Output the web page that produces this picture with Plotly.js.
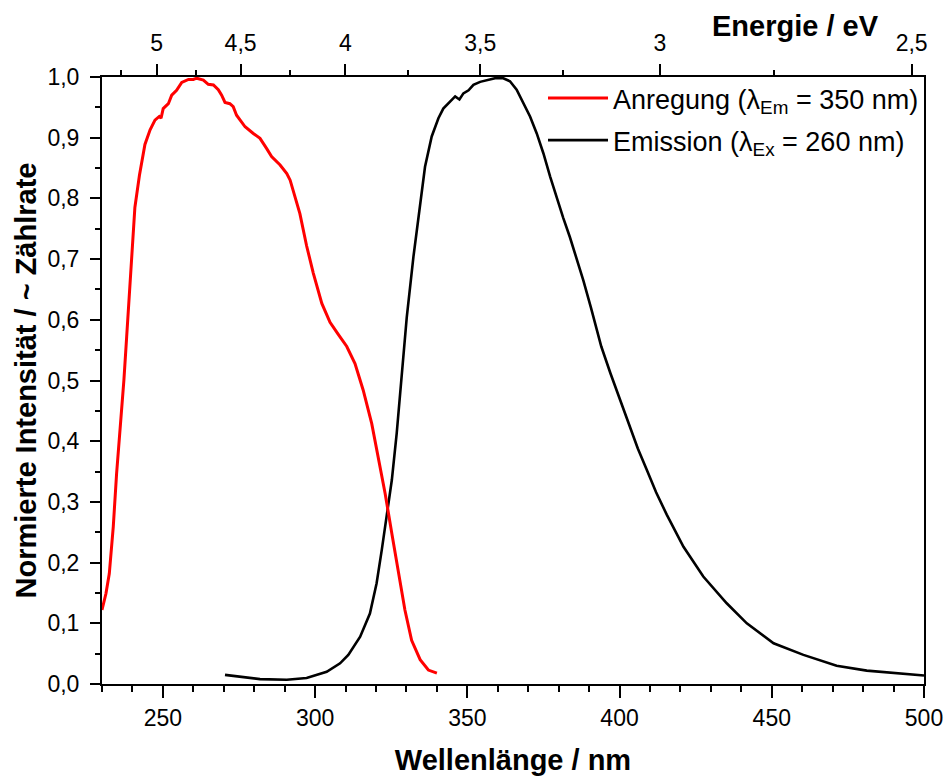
<!DOCTYPE html>
<html>
<head>
<meta charset="utf-8">
<script src="https://cdn.plot.ly/plotly-3.0.1.min.js"></script>
<style>html,body{margin:0;padding:0;background:#fff;}#chart{width:949px;height:778px;}</style>
</head>
<body>
<div id="chart"></div>
<script>
// Anregung (excitation spectrum, λEm = 350 nm)
const excWavelength = [230,231.3,232.4,233.7,234.8,236.1,237.2,238.1,239.4,240.8,242.3,244.1,245.8,247.4,248.8,249.4,250.1,251.8,252.9,254.5,256.2,258.4,260,261.1,263.3,264.9,266.6,268.2,269.3,270.4,272,273.1,274.2,277,279.7,281.9,284.1,285.7,288.5,290.7,291.8,293.4,295,297.2,299.4,302.2,304.9,307.6,310.4,313.1,315.8,318.6,320.8,323,325.2,327.3,329.5,331.7,334.5,337.2,340];
const excIntensity  = [0.122,0.149,0.182,0.259,0.347,0.429,0.501,0.572,0.682,0.785,0.838,0.889,0.913,0.929,0.935,0.932,0.948,0.956,0.970,0.978,0.991,0.996,0.996,0.998,0.995,0.988,0.987,0.979,0.970,0.958,0.956,0.951,0.937,0.918,0.907,0.899,0.882,0.869,0.855,0.841,0.830,0.803,0.775,0.722,0.677,0.627,0.596,0.576,0.556,0.528,0.484,0.429,0.374,0.314,0.248,0.188,0.122,0.072,0.040,0.023,0.018];

// Emission (emission spectrum, λEx = 260 nm)
const emiWavelength = [270.4,281.9,290.7,297.2,303.8,308.2,310.9,314.8,318,320.2,321.9,323.5,325.2,326.8,328.4,330.1,332.3,334.5,336.1,338.3,340.5,342.1,344.3,346,347.4,348.7,350.4,352,354.2,356.9,359.1,361.8,364,366.2,368.4,370.6,372.8,375,377.2,379.4,381.5,383.7,385.9,388.1,390.6,394,397,400,403,406,409,412,415.5,421,427.5,435.2,441.8,450.6,460.4,471.3,481.2,490,500];
const emiIntensity  = [0.015,0.008,0.007,0.010,0.020,0.034,0.048,0.078,0.116,0.166,0.221,0.276,0.336,0.413,0.506,0.604,0.704,0.792,0.852,0.902,0.932,0.948,0.959,0.968,0.963,0.973,0.978,0.987,0.992,0.996,0.998,0.998,0.993,0.979,0.957,0.935,0.907,0.874,0.836,0.800,0.768,0.736,0.702,0.665,0.620,0.556,0.512,0.470,0.428,0.388,0.352,0.316,0.279,0.226,0.177,0.133,0.100,0.067,0.048,0.030,0.022,0.018,0.014];

// top axis (energy) ticks
const energyTicks = [5, 4.5, 4, 3.5, 3, 2.5];
const energyLabels = ['5', '4,5', '4', '3,5', '3', '2,5'];
const energyMinor = [5.25, 4.75, 4.25, 3.75, 3.25, 2.75];
const hc = 1239.84; // eV·nm

const seriesNames = ['Anregung (λ<sub>Em</sub> = 350 nm)', 'Emission (λ<sub>Ex</sub> = 260 nm)'];

const font = 'Liberation Sans, Arial, sans-serif';

const traces = [
  {x: excWavelength, y: excIntensity, type: 'scatter', mode: 'lines', name: seriesNames[0],
   xaxis: 'x2', yaxis: 'y', legendgroup: 'a',
   line: {color: '#ff0000', width: 3}},
  {x: emiWavelength, y: emiIntensity, type: 'scatter', mode: 'lines', name: seriesNames[1],
   xaxis: 'x', yaxis: 'y', legendgroup: 'b',
   line: {color: '#000000', width: 2.6}}
];

const layout = {
  width: 949, height: 778,
  margin: {l: 102, r: 25, t: 77, b: 94},
  paper_bgcolor: '#fff', plot_bgcolor: 'rgba(0,0,0,0)',
  separators: ',.',
  font: {family: font, color: '#000', size: 23},
  showlegend: true,
  legend: {x: 1.0, xanchor: 'right', y: 1.005, yanchor: 'top', bgcolor: 'rgba(0,0,0,0)',
           font: {size: 27, family: font, color: '#000'}, itemwidth: 60,
           traceorder: 'grouped', tracegroupgap: 4},
  xaxis: {
    range: [230, 500], showgrid: false, zeroline: false,
    showline: true, linecolor: '#000', linewidth: 2,
    ticks: 'outside', ticklen: 12, tickwidth: 2, tickcolor: '#000',
    tickmode: 'linear', tick0: 0, dtick: 50,
    minor: {ticks: 'outside', ticklen: 6, tickwidth: 2, tickcolor: '#000', dtick: 10, tick0: 0, showgrid: false},
    tickfont: {size: 23, family: font, color: '#000'},
    title: {text: '<b>Wellenlänge / nm</b>', font: {size: 29, family: font, color: '#000'}, standoff: 20}
  },
  xaxis2: {
    overlaying: 'x', side: 'top', anchor: 'y',
    range: [230, 500], showgrid: false, zeroline: false,
    showline: true, linecolor: '#000', linewidth: 2,
    ticks: 'outside', ticklen: 11, tickwidth: 2, tickcolor: '#000',
    tickmode: 'array', tickvals: energyTicks.map(e => hc / e), ticktext: energyLabels,
    minor: {ticks: 'outside', ticklen: 5, tickwidth: 2, tickcolor: '#000', tickmode: 'array',
            tickvals: energyMinor.map(e => hc / e), showgrid: false},
    ticklabelstandoff: 4,
    tickfont: {size: 23, family: font, color: '#000'}
  },
  yaxis: {
    range: [0, 1], showgrid: false, zeroline: false,
    showline: true, linecolor: '#000', linewidth: 2, mirror: true,
    ticks: 'outside', ticklen: 10, tickwidth: 2, tickcolor: '#000',
    tickmode: 'linear', tick0: 0, dtick: 0.1, tickformat: '.1f',
    minor: {ticks: 'outside', ticklen: 5, tickwidth: 2, tickcolor: '#000', dtick: 0.05, tick0: 0, showgrid: false},
    ticklabelstandoff: 6,
    tickfont: {size: 23, family: font, color: '#000'},
    title: {text: '<b>Normierte Intensität / ~ Zählrate</b>', font: {size: 29, family: font, color: '#000'}, standoff: 2}
  },
  annotations: [
    {text: '<b>Energie / eV</b>', xref: 'paper', yref: 'paper', x: 0.844, y: 1, yshift: 51,
     xanchor: 'center', yanchor: 'middle', showarrow: false,
     font: {size: 29, family: font, color: '#000'}}
  ]
};

Plotly.newPlot('chart', traces, layout, {displayModeBar: false, staticPlot: true});
</script>
</body>
</html>
